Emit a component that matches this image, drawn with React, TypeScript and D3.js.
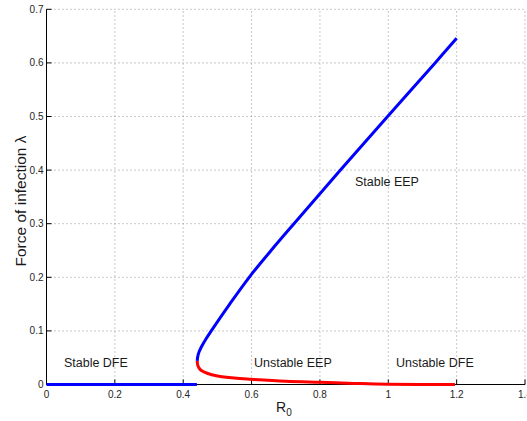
import React from 'react'
import * as d3 from 'd3'

// R0 / lambda
const upperR0 = [0.441, 0.4425, 0.446, 0.453, 0.4665, 0.482, 0.536, 0.593, 0.657, 0.724, 0.86, 0.998, 1.137, 1.2]
const upperLam = [0.044, 0.052, 0.06, 0.07, 0.085, 0.1, 0.15, 0.2, 0.25, 0.3, 0.4, 0.5, 0.6, 0.646]
const lowerR0 = [0.441, 0.4425, 0.446, 0.453, 0.47, 0.5, 0.55, 0.6, 0.7, 0.8, 0.9, 1.0, 1.195]
const lowerLam = [0.044, 0.036, 0.031, 0.026, 0.021, 0.016, 0.012, 0.0097, 0.006, 0.004, 0.002, 0.0005, 0]
const dfeR0 = [0, 0.44]
const xTicks = [0, 0.2, 0.4, 0.6, 0.8, 1, 1.2, 1.4]
const yTicks = [0, 0.1, 0.2, 0.3, 0.4, 0.5, 0.6, 0.7]
const labels = [
  { text: 'Stable DFE', r: 0.051, l: 0.033 },
  { text: 'Unstable EEP', r: 0.607, l: 0.033 },
  { text: 'Unstable DFE', r: 1.0225, l: 0.033 },
  { text: 'Stable EEP', r: 0.9026, l: 0.37 },
]

const W = 527, H = 421
const left = 46.5, right = 525, top = 9.3, bottom = 384.5
const font = 'Liberation Sans, Arial, Helvetica, sans-serif'

export default function App() {
  const x = d3.scaleLinear().domain([0, 1.4]).range([left, right])
  const y = d3.scaleLinear().domain([0, 0.7]).range([bottom, top])

  const curve = d3.line<number[]>()
    .x(d => x(d[0]))
    .y(d => y(d[1]))
    .curve(d3.curveCatmullRom.alpha(0.5))
  const straight = d3.line<number[]>().x(d => x(d[0])).y(d => y(d[1]))

  const upper = upperR0.map((r, i) => [r, upperLam[i]])
  const lower = lowerR0.map((r, i) => [r, lowerLam[i]])
  const dfe = dfeR0.map(r => [r, 0])

  return (
    <svg width={W} height={H} style={{ position: 'absolute', left: 0, top: 0, background: '#fff' }}>
      {/* grid */}
      {xTicks.filter(t => t > 0).map(t => (
        <line key={'gx' + t} x1={x(t)} x2={x(t)} y1={bottom} y2={top}
          stroke="#777" strokeWidth={0.8} strokeDasharray="1,3" />
      ))}
      {yTicks.filter(t => t > 0).map(t => (
        <line key={'gy' + t} x1={left} x2={right} y1={y(t)} y2={y(t)}
          stroke="#777" strokeWidth={0.8} strokeDasharray="1,3" />
      ))}

      {/* axes */}
      <line x1={left} x2={left} y1={top} y2={bottom} stroke="#000" strokeWidth={1} />
      <line x1={left} x2={right} y1={bottom} y2={bottom} stroke="#000" strokeWidth={1} />
      {xTicks.map(t => (
        <g key={'xt' + t}>
          <line x1={x(t)} x2={x(t)} y1={bottom} y2={bottom - 5} stroke="#000" />
          <text x={x(t)} y={bottom + 13.5} fontSize={10} fontFamily={font} textAnchor="middle" fill="#262626">{t}</text>
        </g>
      ))}
      {yTicks.map(t => (
        <g key={'yt' + t}>
          <line x1={left} x2={left + 5} y1={y(t)} y2={y(t)} stroke="#000" />
          <text x={left - 3} y={y(t) + 3.5} fontSize={10} fontFamily={font} textAnchor="end" fill="#262626">{t}</text>
        </g>
      ))}

      {/* curves */}
      <path d={straight(dfe) || ''} fill="none" stroke="#0000ff" strokeWidth={3} />
      <path d={curve(lower) || ''} fill="none" stroke="#ff0000" strokeWidth={3} />
      <path d={curve(upper) || ''} fill="none" stroke="#0000ff" strokeWidth={3} />

      {/* region labels */}
      {labels.map(l => (
        <text key={l.text} x={x(l.r)} y={y(l.l)} fontSize={12.5} fontFamily={font} fill="#1a1a1a">{l.text}</text>
      ))}

      {/* axis titles */}
      <text x={276} y={411.5} fontSize={14} fontFamily={font} fill="#1a1a1a">R<tspan fontSize={10} dy={4}>0</tspan></text>
      <text transform="translate(25.5,201) rotate(-90)" textAnchor="middle" fontSize={15.5} fontFamily={font} fill="#1a1a1a">
        Force of infection λ
      </text>
    </svg>
  )
}
